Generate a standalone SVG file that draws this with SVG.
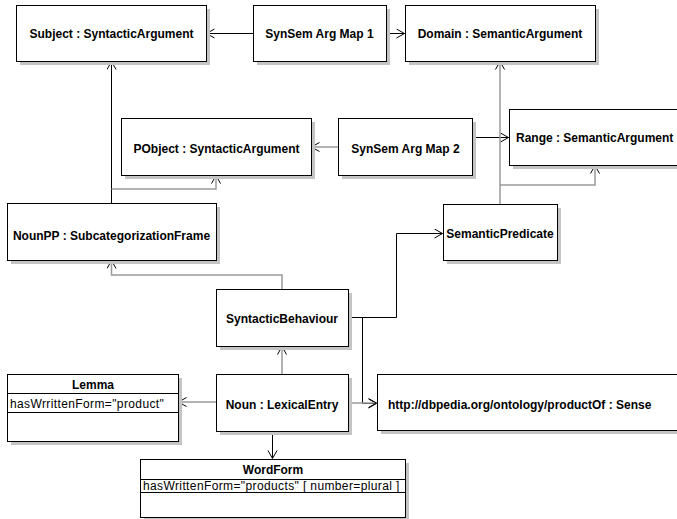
<svg xmlns="http://www.w3.org/2000/svg" width="677" height="519" viewBox="0 0 677 519">
<defs>
<marker id="arr" markerWidth="12" markerHeight="12" refX="9" refY="5" orient="auto" markerUnits="userSpaceOnUse">
<path d="M1,0.5 L9,5 L1,9.5" fill="none" stroke="#000" stroke-width="1"/>
</marker>
<style>
.box{fill:#fff;stroke:#000;stroke-width:1}
.sh{fill:#c4c4c4}
.t{font-family:"Liberation Sans",Arial,sans-serif;font-size:12px;font-weight:bold;fill:#000}
.a{font-family:"Liberation Sans",Arial,sans-serif;font-size:12px;letter-spacing:0.38px;fill:#000}
.c{fill:none;stroke:#000;stroke-width:1}
.g{fill:none;stroke:#999;stroke-width:1.5}
</style>
</defs>
<rect width="677" height="519" fill="#fff"/>
<g id="connectors">
<path class="c" d="M253,33.5 H206.5" marker-end="url(#arr)"/>
<path class="c" d="M386,33.5 H404.5" marker-end="url(#arr)"/>
<path class="c" d="M111.5,203 V61.5" marker-end="url(#arr)"/>
<path class="g" d="M111.5,189 H216 V175.5" marker-end="url(#arr)"/>
<path class="g" d="M338,147 H311.5" marker-end="url(#arr)"/>
<path class="c" d="M472,137.5 H508.5" marker-end="url(#arr)"/>
<path class="g" d="M500,204 V61.5" marker-end="url(#arr)"/>
<path class="g" d="M500,185 H595 V165.5" marker-end="url(#arr)"/>
<path class="g" d="M282,289 V275 H111.5 V260.5" marker-end="url(#arr)"/>
<path class="c" d="M348,317.5 H396.5 V233.5 H442.5" marker-end="url(#arr)"/>
<path class="c" d="M362.5,317.5 V403.5 H376.5" marker-end="url(#arr)"/>
<path class="g" d="M348,403 H376.5" marker-end="url(#arr)"/>
<path class="g" d="M282,374 V346.5" marker-end="url(#arr)"/>
<path class="g" d="M216,402 H178.5" marker-end="url(#arr)"/>
<path class="c" d="M272.5,431 V458.5" marker-end="url(#arr)"/>
</g>
<g id="subject">
<rect class="sh" x="20" y="9" width="190" height="56"/>
<rect class="box" x="16.5" y="5.5" width="190" height="56"/>
<text class="t" x="111.5" y="37.5" text-anchor="middle">Subject : SyntacticArgument</text>
</g>
<g id="map1">
<rect class="sh" x="257" y="9" width="133" height="56"/>
<rect class="box" x="253.5" y="5.5" width="133" height="56"/>
<text class="t" x="319.5" y="37.5" text-anchor="middle">SynSem Arg Map 1</text>
</g>
<g id="domain">
<rect class="sh" x="409" y="9" width="190" height="56"/>
<rect class="box" x="405.5" y="5.5" width="190" height="56"/>
<text class="t" x="500" y="37.5" text-anchor="middle">Domain : SemanticArgument</text>
</g>
<g id="pobject">
<rect class="sh" x="125" y="122" width="190" height="57"/>
<rect class="box" x="121.5" y="118.5" width="190" height="57"/>
<text class="t" x="216.5" y="152.5" text-anchor="middle">PObject : SyntacticArgument</text>
</g>
<g id="map2">
<rect class="sh" x="342" y="122" width="134" height="57"/>
<rect class="box" x="338.5" y="118.5" width="134" height="57"/>
<text class="t" x="405.5" y="152.5" text-anchor="middle">SynSem Arg Map 2</text>
</g>
<g id="range">
<rect class="sh" x="513" y="113" width="190" height="56"/>
<rect class="box" x="509.5" y="109.5" width="190" height="56"/>
<text class="t" x="516" y="141.5">Range : SemanticArgument</text>
</g>
<g id="nounpp">
<rect class="sh" x="11" y="207" width="209" height="57"/>
<rect class="box" x="7.5" y="203.5" width="209" height="57"/>
<text class="t" x="111.5" y="239.5" text-anchor="middle">NounPP : SubcategorizationFrame</text>
</g>
<g id="sempred">
<rect class="sh" x="447" y="208" width="114" height="56"/>
<rect class="box" x="443.5" y="204.5" width="114" height="56"/>
<text class="t" x="500" y="237.5" text-anchor="middle">SemanticPredicate</text>
</g>
<g id="synbeh">
<rect class="sh" x="220" y="293" width="132" height="57"/>
<rect class="box" x="216.5" y="289.5" width="132" height="57"/>
<text class="t" x="282" y="322.5" text-anchor="middle">SyntacticBehaviour</text>
</g>
<g id="noun">
<rect class="sh" x="220" y="378" width="132" height="57"/>
<rect class="box" x="216.5" y="374.5" width="132" height="57"/>
<text class="t" x="282" y="408.5" text-anchor="middle">Noun : LexicalEntry</text>
</g>
<g id="sense">
<rect class="sh" x="381" y="378" width="320" height="56"/>
<rect class="box" x="377.5" y="374.5" width="320" height="56"/>
<text class="t" x="388" y="408.5">http://dbpedia.org/ontology/productOf : Sense</text>
</g>
<g id="lemma">
<rect class="sh" x="11" y="378" width="171" height="67"/>
<rect class="box" x="7.5" y="374.5" width="171" height="67"/>
<line class="c" x1="7.5" y1="393.5" x2="178.5" y2="393.5"/>
<line class="c" x1="7.5" y1="412.5" x2="178.5" y2="412.5"/>
<text class="t" x="93" y="388.5" text-anchor="middle">Lemma</text>
<text class="a" x="10" y="407.5">hasWrrittenForm="product"</text>
</g>
<g id="wordform">
<rect class="sh" x="144" y="463" width="265" height="58"/>
<rect class="box" x="140.5" y="459.5" width="265" height="58"/>
<line class="c" x1="140.5" y1="479.5" x2="405.5" y2="479.5"/>
<line class="c" x1="140.5" y1="492.5" x2="405.5" y2="492.5"/>
<text class="t" x="273" y="474" text-anchor="middle">WordForm</text>
<text class="a" x="143" y="490">hasWrittenForm="products" [ number=plural ]</text>
</g>
</svg>
